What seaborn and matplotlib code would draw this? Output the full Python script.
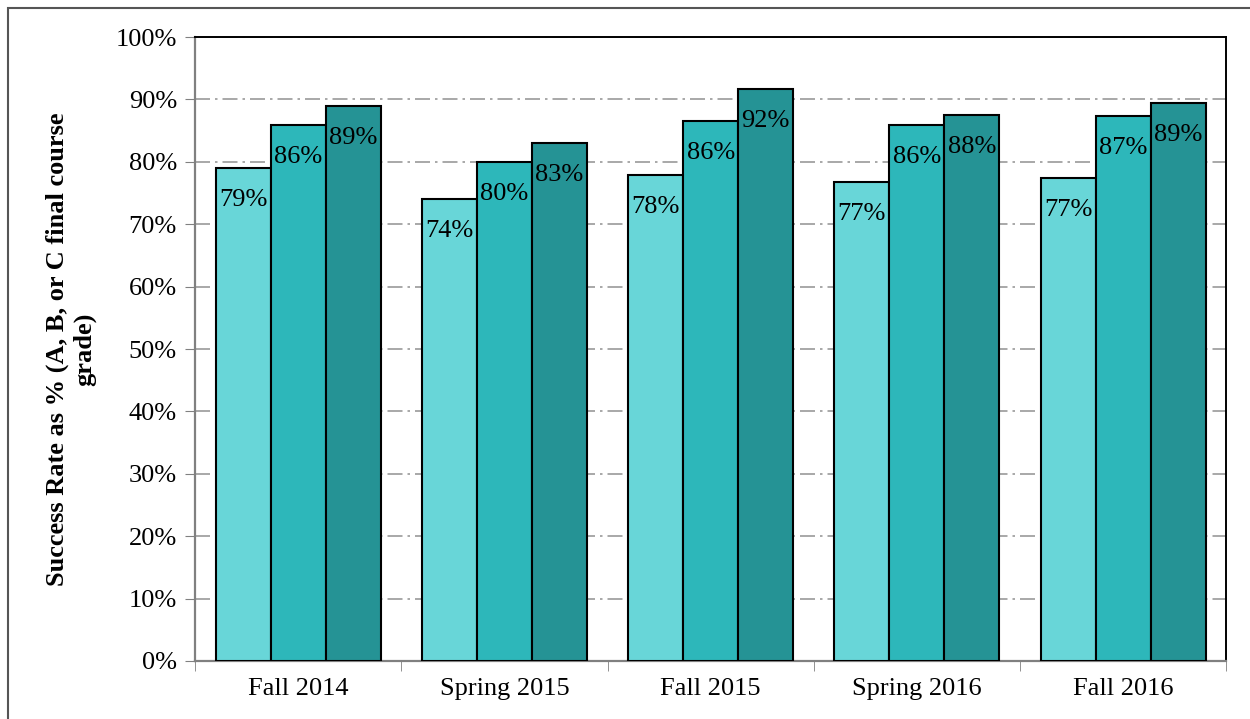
import numpy as np
import pandas as pd
import seaborn as sns
import matplotlib.pyplot as plt
from matplotlib.patches import Rectangle

# dados
terms = ["Fall 2014", "Spring 2015", "Fall 2015", "Spring 2016", "Fall 2016"]
series_names = ["Series 1", "Series 2", "Series 3"]
series_1 = [79.0, 74.0, 77.9, 76.8, 77.4]
series_2 = [85.9, 80.0, 86.5, 85.9, 87.3]
series_3 = [89.0, 83.0, 91.7, 87.5, 89.4]
colors = ["#68D6D8", "#2DB7BA", "#259395"]

df = pd.DataFrame({
    "term": terms * 3,
    "serie": np.repeat(series_names, len(terms)),
    "rate": series_1 + series_2 + series_3,
})

sns.set_style("white")
plt.rcParams["font.family"] = ["Liberation Serif", "DejaVu Serif"]
plt.rcParams["text.color"] = "black"
plt.rcParams["axes.labelcolor"] = "black"
plt.rcParams["xtick.color"] = "black"
plt.rcParams["ytick.color"] = "black"

fig = plt.figure(figsize=(12.5, 7.19), dpi=100)
ax = fig.add_axes([0.156, 0.0807, 0.825, 0.8678])

sns.barplot(data=df, x="term", y="rate", hue="serie", order=terms,
            hue_order=series_names, palette=colors, saturation=1,
            edgecolor="black", linewidth=1.5, ax=ax, legend=False, zorder=3)

# rotulos dentro das barras
for cont in ax.containers:
    labels = [f"{round(v):.0f}%" for v in cont.datavalues]
    ax.bar_label(cont, labels=labels, padding=-31, fontsize=19, color="black")

ax.set_ylim(0, 100)
ax.set_xlim(-0.5, 4.5)
ax.set_yticks(np.arange(0, 101, 10))
ax.set_yticklabels([f"{v}%" for v in range(0, 101, 10)])
ax.set_xlabel("")
ax.set_ylabel("Success Rate as % (A, B, or C final course\ngrade)",
              fontsize=19, fontweight="bold", labelpad=14, color="black")

ax.tick_params(axis="y", which="major", direction="out", length=7,
               color="#808080", labelcolor="black", labelsize=19, left=True, pad=6)
ax.tick_params(axis="x", which="major", length=0, labelsize=19,
               labelcolor="black", pad=12)
ax.set_xticks(np.arange(-0.5, 5, 1), minor=True)
ax.tick_params(axis="x", which="minor", direction="out", length=7,
               color="#808080", bottom=True)

ax.yaxis.grid(True, linestyle=(0, (9, 3, 1.5, 3)), color="#9a9a9a", linewidth=1.2, zorder=0)
ax.set_axisbelow(True)

for s in ["left", "bottom"]:
    ax.spines[s].set_color("#808080")
    ax.spines[s].set_linewidth(1.6)
for s in ["top", "right"]:
    ax.spines[s].set_color("black")
    ax.spines[s].set_linewidth(1.4)

# moldura da figura
fig.patches.append(Rectangle((0.006, -0.01), 1.2, 0.999, transform=fig.transFigure,
                             fill=False, edgecolor="#555555", linewidth=1.5))

plt.savefig("out.png", dpi=100)
plt.close()
